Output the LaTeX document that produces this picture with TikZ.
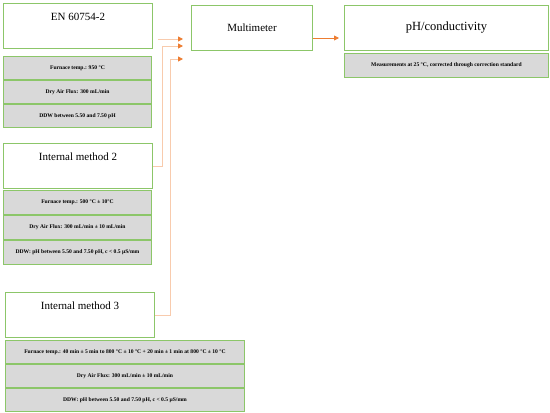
\documentclass[tikz,border=0pt]{standalone}
\usepackage{fontspec}
\setmainfont{Liberation Serif}
\usepackage{tikz}
\usetikzlibrary{positioning,arrows.meta}
\definecolor{boxgreen}{RGB}{140,198,105}
\definecolor{rowgray}{RGB}{217,217,217}
\definecolor{arrorange}{RGB}{237,125,49}
\definecolor{linepeach}{RGB}{248,203,173}

\begin{document}
\begin{tikzpicture}[x=1pt, y=-1pt, >={Triangle[length=5pt,width=5pt,color=arrorange]},
		headbox/.style={draw=boxgreen, line width=1pt, fill=white, anchor=north west, minimum width=149pt, minimum height=45pt, inner ysep=6.5pt, text height=10pt, text depth=22pt, font=\fontsize{11}{13}\selectfont},
		titlebox/.style={draw=boxgreen, line width=1pt, fill=white, anchor=north west, minimum height=45pt, font=\fontsize{11}{13}\selectfont},
		rowbox/.style={draw=boxgreen, line width=1pt, fill=rowgray, minimum height=23pt, inner sep=0pt, font=\fontsize{5.6}{6.5}\selectfont\bfseries},
		feed/.style={->, draw=linepeach, line width=1pt},
		flow/.style={->, draw=arrorange, line width=0.8pt}]
		\useasboundingbox (0,0) rectangle (550,413);
		
		\node[headbox] (en) at (3,3) {EN 60754-2};
		\node[rowbox, anchor=north west, minimum width=148pt] (en1) at (3,56) {Furnace temp.: 950 °C};
		\node[rowbox, below=0pt of en1, minimum width=148pt] (en2) {Dry Air Flux: 300 mL/min};
		\node[rowbox, below=0pt of en2, minimum width=148pt] (en3) {DDW between 5.50 and 7.50 pH};
		
		\node[headbox] (im2) at (3,143) {Internal method 2};
		\node[rowbox, anchor=north west, minimum width=148pt, minimum height=24pt] (im21) at (3,190) {Furnace temp.: 500 °C ± 10°C};
		\node[rowbox, below=0pt of im21, minimum width=148pt, minimum height=24pt] (im22) {Dry Air Flux: 300 mL/min ± 10 mL/min};
		\node[rowbox, below=0pt of im22, minimum width=148pt, minimum height=24pt] (im23) {DDW: pH between 5.50 and 7.50 pH, c < 0.5 µS/mm};
		
		\node[headbox] (im3) at (5,292) {Internal method 3};
		\node[rowbox, anchor=north west, minimum width=239pt] (im31) at (5,340) {Furnace temp.: 40 min ± 5 min to 800 °C ± 10 °C + 20 min ± 1 min at 800 °C ± 10 °C};
		\node[rowbox, below=0pt of im31, minimum width=239pt] (im32) {Dry Air Flux: 300 mL/min ± 10 mL/min};
		\node[rowbox, below=0pt of im32, minimum width=239pt] (im33) {DDW: pH between 5.50 and 7.50 pH, c < 0.5 µS/mm};
		
		\node[titlebox, minimum width=121pt] (mm) at (191,5) {Multimeter};
		\node[titlebox, minimum width=204pt, font=\fontsize{12.5}{14}\selectfont] (ph) at (344,5) {pH/conductivity};
		\node[rowbox, anchor=north west, minimum width=204pt, minimum height=24pt] (ph1) at (344,53) {Measurements at 25 °C, corrected through correction standard};
		
		\draw[feed] ([shift={(5pt,10pt)}]en.south east) -- ([shift={(-8pt,12pt)}]mm.south west);
		\draw[feed] (im2.east) -- ++(9,0) |- ([shift={(-8pt,5pt)}]mm.south west);
		\draw[feed] (im3.east) -- ++(15,0) |- ([shift={(-8pt,-8pt)}]mm.south west);
		\draw[flow] ([yshift=-10pt]mm.east) -- ([shift={(-5pt,-10pt)}]ph.west);
	\end{tikzpicture}
\end{document}
